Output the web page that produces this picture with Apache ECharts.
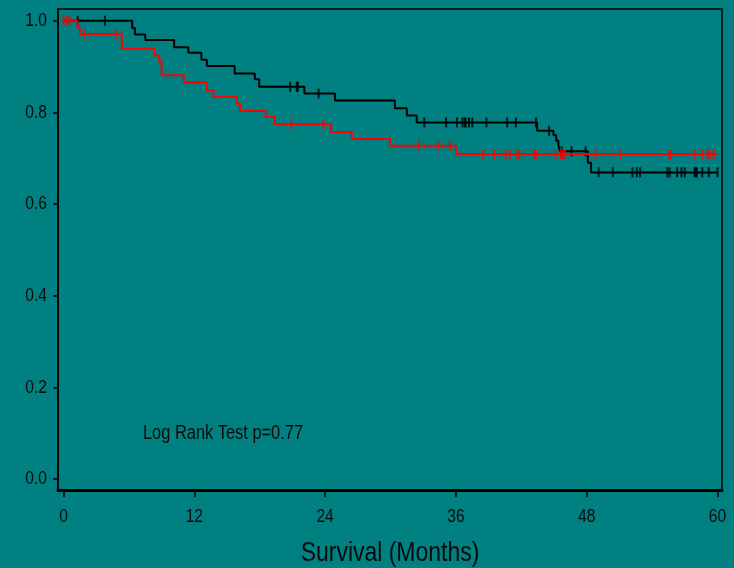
<!DOCTYPE html>
<html><head><meta charset="utf-8">
<script src="https://cdn.jsdelivr.net/npm/echarts@6/dist/echarts.min.js"></script>
<style>html,body{margin:0;padding:0;background:#008080}#c{width:734px;height:568px}</style>
</head><body><div id="c"></div>
<script>
// ---- data ----
const xTicks = [0, 12, 24, 36, 48, 60];
const yTicks = [0, 0.2, 0.4, 0.6, 0.8, 1.0];
const xTickLabels = ['0', '12', '24', '36', '48', '60'];
const yTickLabels = ['0.0', '0.2', '0.4', '0.6', '0.8', '1.0'];
const xAxisTitle = 'Survival (Months)';
const annotation = 'Log Rank Test p=0.77';

// black group: Kaplan-Meier steps (time in months, survival after the step)
const blackTimes = [0, 6.3, 6.55, 7.5, 10.15, 11.45, 12.65, 13.15, 15.7, 17.55, 17.95, 22.1, 24.9, 30.4, 31.5, 32.4, 43.45, 44.95, 45.2, 45.4, 45.55, 48.1, 48.4, 60];
const blackSurv  = [1.0, 0.984, 0.970, 0.958, 0.942, 0.930, 0.915, 0.901, 0.885, 0.872, 0.856, 0.841, 0.826, 0.809, 0.793, 0.778, 0.760, 0.750, 0.738, 0.727, 0.715, 0.690, 0.669, 0.669];
const blackCensor = [1.3, 3.8, 20.8, 21.4, 21.5, 23.4, 33.1, 35.1, 36.1, 36.6, 36.8, 36.9, 37.2, 37.5, 38.8, 40.7, 41.5, 43.35, 44.55, 45.7, 46.6, 47.9, 49.1, 50.4, 52.2, 52.6, 52.9, 55.4, 55.6, 56.3, 56.7, 57.0, 57.9, 58.0, 58.1, 58.6, 59.2, 60.0];

// red group
const redTimes = [0, 1.28, 1.5, 5.35, 8.35, 8.8, 9.0, 11.05, 13.15, 13.75, 15.9, 16.2, 18.55, 19.4, 24.55, 26.45, 29.95, 36.0, 60];
const redSurv  = [1.0, 0.985, 0.971, 0.939, 0.924, 0.909, 0.881, 0.865, 0.848, 0.834, 0.819, 0.803, 0.790, 0.774, 0.757, 0.742, 0.727, 0.709, 0.709];
const redCensor = [0.0, 0.3, 0.55, 1.9, 4.8, 20.9, 23.85, 32.6, 34.4, 35.5, 38.5, 39.5, 40.55, 40.95, 41.65, 41.8, 43.2, 43.35, 45.15, 45.6, 45.8, 46.0, 48.8, 51.1, 55.6, 55.7, 57.95, 58.6, 59.1, 59.3, 59.65];

// ---- build ----
const FONT = "'Liberation Sans', Arial, sans-serif";
const NARROW = 0.82;   // condensed look of the original typeface
const TXT = '#0a0a0a';
function survAt(times, surv, t) {
  let s = surv[0];
  for (let i = 0; i < times.length; i++) { if (times[i] <= t) s = surv[i]; else break; }
  return s;
}
const pairs = (a, b) => a.map((t, i) => [t, b[i]]);
const censorPts = (c, times, surv) => c.map(t => [t, survAt(times, surv, t)]);

const chart = echarts.init(document.getElementById('c'), null, {renderer: 'canvas'});
chart.setOption({
  backgroundColor: '#008080',
  animation: false,
  grid: {left: 58, right: 12, top: 9, bottom: 78, show: true, borderColor: '#000', borderWidth: 1.5, backgroundColor: 'transparent'},
  xAxis: {
    type: 'value', min: -0.505, max: 60.41,
    axisLine: {show: true, onZero: false, lineStyle: {color: '#000', width: 3}},
    axisTick: {show: true, length: 7, lineStyle: {color: '#000', width: 1.5}, customValues: xTicks},
    axisLabel: {show: false, customValues: xTicks},
    splitLine: {show: false}
  },
  yAxis: {
    type: 'value', min: -0.024, max: 1.0255,
    axisLine: {show: true, onZero: false, lineStyle: {color: '#000', width: 1.5}},
    axisTick: {show: true, length: 5, lineStyle: {color: '#000', width: 1.5}, customValues: yTicks},
    axisLabel: {show: false, customValues: yTicks},
    splitLine: {show: false}
  },
  series: [
    {type: 'line', step: 'end', data: pairs(blackTimes, blackSurv), showSymbol: false,
     lineStyle: {color: '#000', width: 2}, z: 2, silent: true},
    {type: 'scatter', data: censorPts(blackCensor, blackTimes, blackSurv), symbol: 'rect', symbolSize: [2, 10],
     itemStyle: {color: '#000'}, z: 3, silent: true},
    {type: 'line', step: 'end', data: pairs(redTimes, redSurv), showSymbol: false,
     lineStyle: {color: '#ff0000', width: 2}, z: 4, silent: true},
    {type: 'scatter', data: censorPts(redCensor, redTimes, redSurv), symbol: 'rect', symbolSize: [2, 10],
     itemStyle: {color: '#ff0000'}, z: 5, silent: true}
  ]
});

// tick labels and titles as condensed text, positioned through the chart's own scales
const texts = [];
xTicks.forEach((v, i) => {
  const p = chart.convertToPixel({gridIndex: 0}, [v, 0]);
  texts.push({type: 'text', x: p[0], y: 517, scaleX: NARROW, silent: true,
    style: {text: xTickLabels[i], font: '19px ' + FONT, fill: TXT, align: 'center', verticalAlign: 'middle'}});
});
yTicks.forEach((v, i) => {
  const p = chart.convertToPixel({gridIndex: 0}, [0, v]);
  texts.push({type: 'text', x: 47, y: p[1], scaleX: NARROW, silent: true,
    style: {text: yTickLabels[i], font: '19px ' + FONT, fill: TXT, align: 'right', verticalAlign: 'middle'}});
});
texts.push({type: 'text', x: 390, y: 553, scaleX: NARROW, silent: true,
  style: {text: xAxisTitle, font: '28px ' + FONT, fill: TXT, align: 'center', verticalAlign: 'middle'}});
texts.push({type: 'text', x: 143, y: 433, scaleX: NARROW, silent: true,
  style: {text: annotation, font: '20px ' + FONT, fill: TXT, align: 'left', verticalAlign: 'middle'}});
chart.setOption({graphic: texts});
</script>
</body></html>
